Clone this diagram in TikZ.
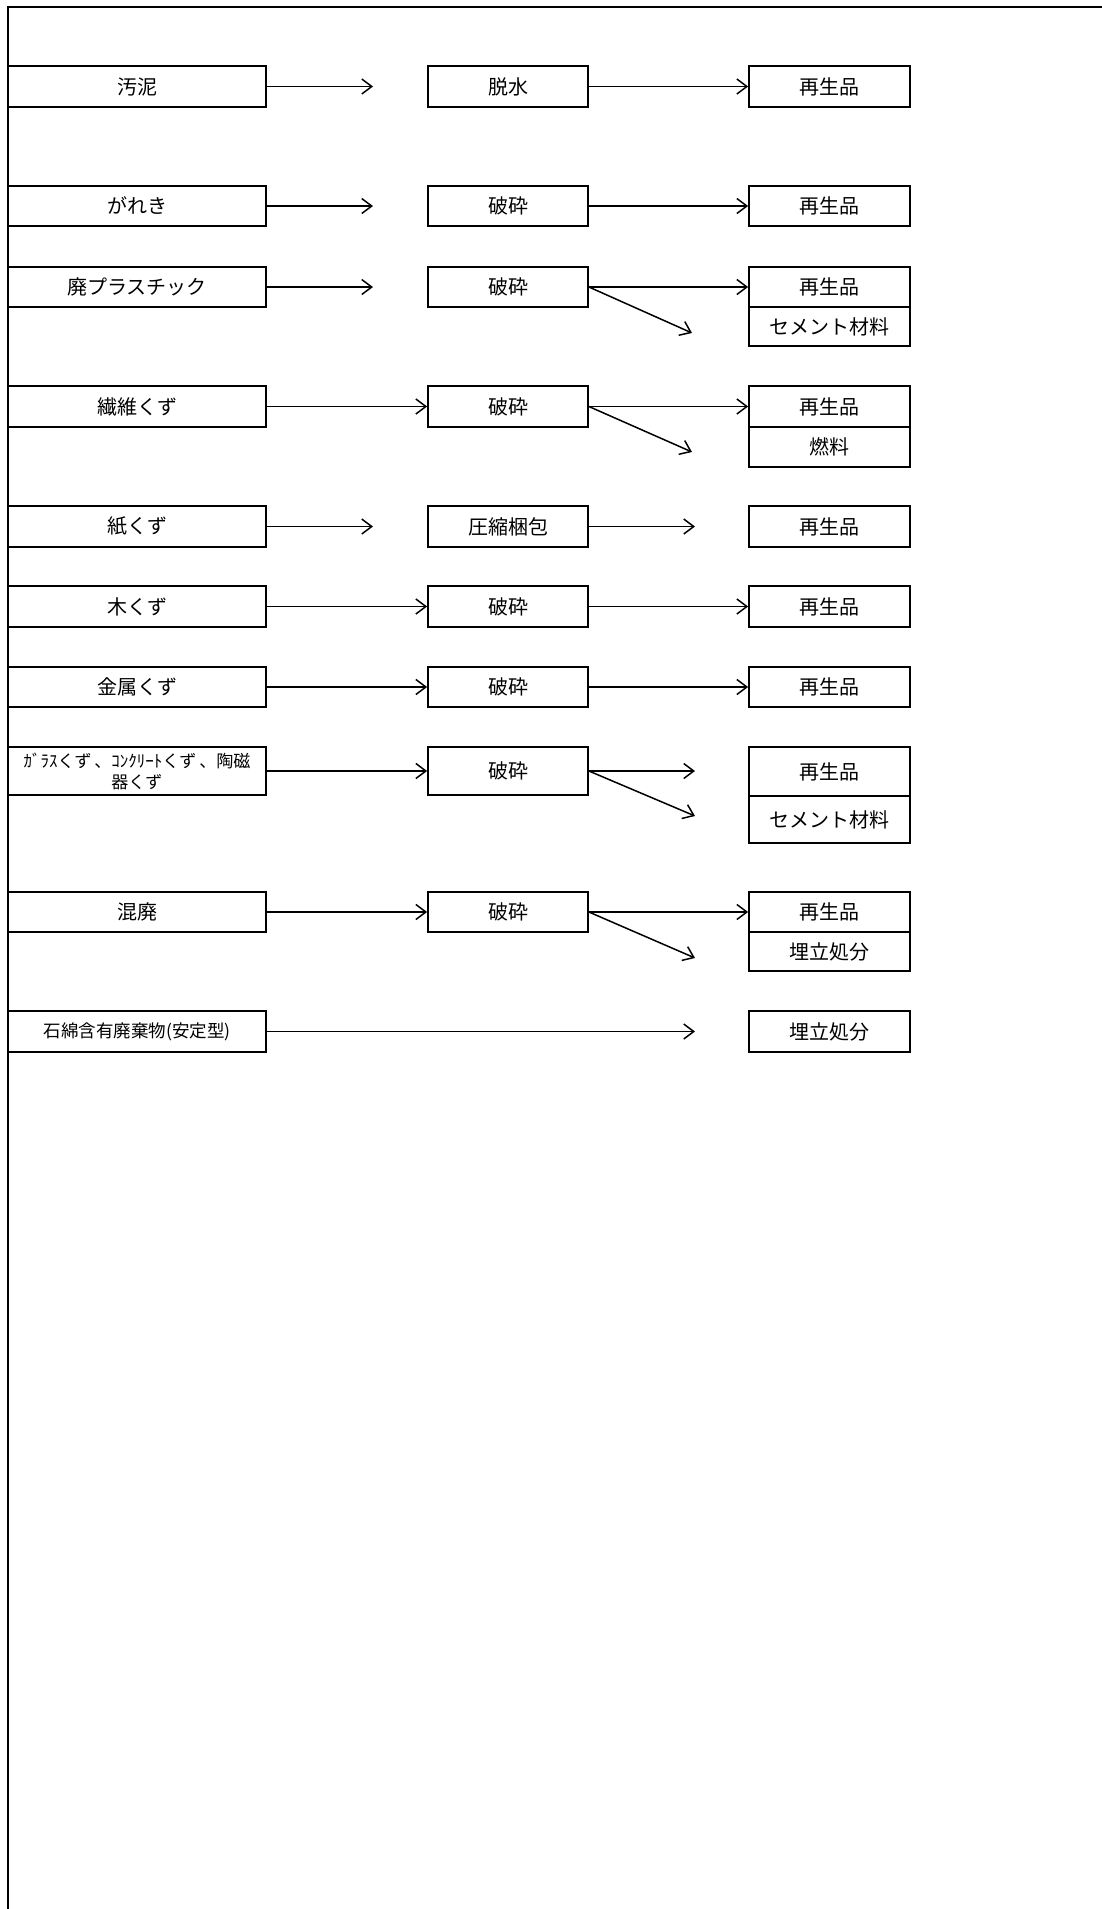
\documentclass[tikz,border=0pt]{standalone}
\usepackage{fontspec}
\setmainfont{Noto Sans CJK JP}
\usetikzlibrary{arrows.meta}
\begin{document}
\begin{tikzpicture}[x=1pt,y=-1pt,
  box/.style={draw, line width=1.8pt, inner sep=0pt, font=\fontsize{20}{24}\selectfont},
  lbox/.style={box, minimum width=258pt},
  mbox/.style={box, minimum width=160pt},
  rbox/.style={box, minimum width=161pt},
  arr/.style={line width=1.5pt, -{Straight Barb[length=10pt,width=15pt,line width=1.5pt]}},
  frame/.style={line width=2pt}
]
\useasboundingbox (0,0) rectangle (1102,1909);
\coordinate (fb) at (8,1909);
\coordinate (ft) at (8,7);
\coordinate (fr) at (1102,7);
\draw[frame] (fb) -- (ft) -- (fr);

% row 1
\node[lbox, minimum height=41pt] (l1) at (137,86.5) {汚泥};
\node[mbox, minimum height=41pt] (m1) at (508,86.5) {脱水};
\node[rbox, minimum height=41pt] (r1) at (829.5,86.5) {再生品};
\coordinate (c1) at (373,86.5);
\draw[arr] (l1.east) -- (c1);
\draw[arr] (m1.east) -- (r1.west);

% row 2
\node[lbox, minimum height=40pt] (l2) at (137,206) {がれき};
\node[mbox, minimum height=40pt] (m2) at (508,206) {破砕};
\node[rbox, minimum height=40pt] (r2) at (829.5,206) {再生品};
\coordinate (c2) at (373,206);
\draw[arr] (l2.east) -- (c2);
\draw[arr] (m2.east) -- (r2.west);

% row 3
\node[lbox, minimum height=40pt] (l3) at (137,287) {廃プラスチック};
\node[mbox, minimum height=40pt] (m3) at (508,287) {破砕};
\node[rbox, minimum height=40pt] (r3) at (829.5,287) {再生品};
\node[rbox, minimum height=39pt] (r3b) at (829.5,326.5) {セメント材料};
\coordinate (c3) at (373,287);
\coordinate (d3) at (692,333);
\draw[arr] (l3.east) -- (c3);
\draw[arr] (m3.east) -- (r3.west);
\draw[arr] (m3.east) -- (d3);

% row 4
\node[lbox, minimum height=41pt] (l4) at (137,406.5) {繊維くず};
\node[mbox, minimum height=41pt] (m4) at (508,406.5) {破砕};
\node[rbox, minimum height=41pt] (r4) at (829.5,406.5) {再生品};
\node[rbox, minimum height=40pt] (r4b) at (829.5,447) {燃料};
\coordinate (d4) at (692,452);
\draw[arr] (l4.east) -- (m4.west);
\draw[arr] (m4.east) -- (r4.west);
\draw[arr] (m4.east) -- (d4);

% row 5
\node[lbox, minimum height=41pt] (l5) at (137,526.5) {紙くず};
\node[mbox, minimum height=41pt] (m5) at (508,526.5) {圧縮梱包};
\node[rbox, minimum height=41pt] (r5) at (829.5,526.5) {再生品};
\coordinate (c5) at (373,526.5);
\coordinate (e5) at (695,526.5);
\draw[arr] (l5.east) -- (c5);
\draw[arr] (m5.east) -- (e5);

% row 6
\node[lbox, minimum height=41pt] (l6) at (137,606.5) {木くず};
\node[mbox, minimum height=41pt] (m6) at (508,606.5) {破砕};
\node[rbox, minimum height=41pt] (r6) at (829.5,606.5) {再生品};
\draw[arr] (l6.east) -- (m6.west);
\draw[arr] (m6.east) -- (r6.west);

% row 7
\node[lbox, minimum height=40pt] (l7) at (137,687) {金属くず};
\node[mbox, minimum height=40pt] (m7) at (508,687) {破砕};
\node[rbox, minimum height=40pt] (r7) at (829.5,687) {再生品};
\draw[arr] (l7.east) -- (m7.west);
\draw[arr] (m7.east) -- (r7.west);

% row 8
\node[lbox, minimum height=48pt, align=center, font=\fontsize{17}{21}\selectfont] (l8) at (137,771) {ｶﾞﾗｽくず\,、ｺﾝｸﾘｰﾄくず\,、陶磁\\器くず};
\node[mbox, minimum height=48pt] (m8) at (508,771) {破砕};
\node[rbox, minimum height=49pt] (r8) at (829.5,771.5) {再生品};
\node[rbox, minimum height=47pt] (r8b) at (829.5,819.5) {セメント材料};
\coordinate (e8) at (695,771);
\coordinate (d8) at (695,816);
\draw[arr] (l8.east) -- (m8.west);
\draw[arr] (m8.east) -- (e8);
\draw[arr] (m8.east) -- (d8);

% row 9
\node[lbox, minimum height=40pt] (l9) at (137,912) {混廃};
\node[mbox, minimum height=40pt] (m9) at (508,912) {破砕};
\node[rbox, minimum height=40pt] (r9) at (829.5,912) {再生品};
\node[rbox, minimum height=39pt] (r9b) at (829.5,951.5) {埋立処分};
\coordinate (d9) at (695,958);
\draw[arr] (l9.east) -- (m9.west);
\draw[arr] (m9.east) -- (r9.west);
\draw[arr] (m9.east) -- (d9);

% row 10
\node[lbox, minimum height=41pt, font=\fontsize{17.5}{21}\selectfont] (l10) at (137,1031.5) {石綿含有廃棄物(安定型)};
\node[rbox, minimum height=41pt] (r10) at (829.5,1031.5) {埋立処分};
\coordinate (c10) at (695,1031.5);
\draw[arr] (l10.east) -- (c10);
\end{tikzpicture}
\end{document}
